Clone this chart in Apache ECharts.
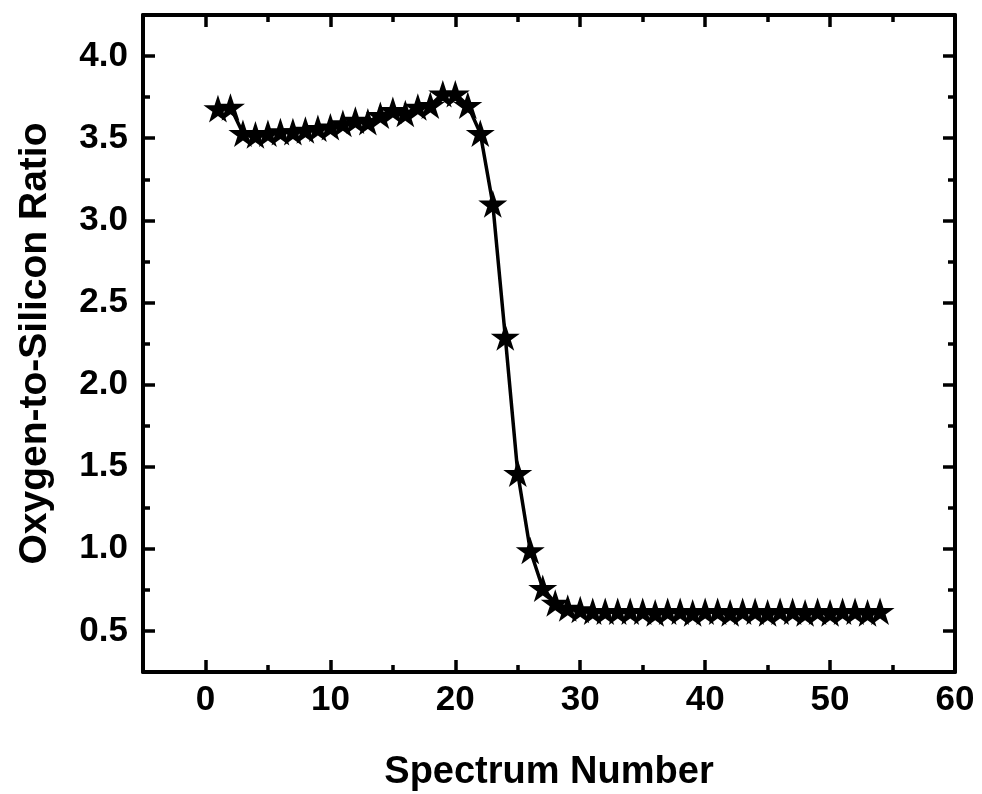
<!DOCTYPE html>
<html>
<head>
<meta charset="utf-8">
<script src="https://cdn.jsdelivr.net/npm/echarts@6/dist/echarts.min.js"></script>
<style>
html,body{margin:0;padding:0;background:#fff;}
#chart{width:982px;height:794px;}
</style>
</head>
<body>
<div id="chart"></div>
<script>
// Data
const spectrumNumbers = [1,2,3,4,5,6,7,8,9,10,11,12,13,14,15,16,17,18,19,20,21,22,23,24,25,26,27,28,29,30,31,32,33,34,35,36,37,38,39,40,41,42,43,44,45,46,47,48,49,50,51,52,53,54];
const ratioValues = [3.68,3.69,3.53,3.52,3.53,3.54,3.54,3.55,3.56,3.57,3.59,3.61,3.60,3.64,3.67,3.65,3.69,3.70,3.77,3.77,3.70,3.53,3.10,2.29,1.46,0.99,0.76,0.67,0.64,0.63,0.62,0.62,0.62,0.62,0.62,0.61,0.62,0.62,0.61,0.62,0.62,0.61,0.62,0.62,0.61,0.62,0.62,0.61,0.62,0.61,0.62,0.62,0.61,0.62];
const xMajorTicks = [0,10,20,30,40,50,60];
const xMinorTicks = [5,15,25,35,45,55];
const yMajorTicks = [0.5,1.0,1.5,2.0,2.5,3.0,3.5,4.0];
const yMinorTicks = [0.75,1.25,1.75,2.25,2.75,3.25,3.75];
const xTitle = 'Spectrum Number';
const yTitle = 'Oxygen-to-Silicon Ratio';

const FONT = '"Liberation Sans", Arial, sans-serif';
const chart = echarts.init(document.getElementById('chart'), null, {renderer:'canvas'});
const starPath = 'path://M50,0 L61.2,34.5 L97.6,34.5 L68.2,55.9 L79.4,90.5 L50,69.1 L20.6,90.5 L31.8,55.9 L2.4,34.5 L38.8,34.5 Z';

function xAx(pos, ticks, len, showLabel, showLine, name){
  return {
    type:'value', position:pos, min:-5, max:60,
    gridIndex:0,
    name: name || '', nameLocation:'middle', nameGap:82,
    nameTextStyle:{fontFamily:FONT, fontWeight:'bold', fontSize:38, color:'#000'},
    axisLine:{show:showLine, onZero:false, lineStyle:{color:'#000', width:4}},
    axisTick:{show:true, inside:true, length:len, customValues:ticks, lineStyle:{color:'#000', width:3.5}},
    axisLabel:{show:showLabel, customValues:ticks, margin:11, fontFamily:FONT, fontWeight:'bold', fontSize:35, color:'#000'},
    splitLine:{show:false}
  };
}
function yAx(pos, ticks, len, showLabel, showLine, name){
  return {
    type:'value', position:pos, min:0.25, max:4.25,
    gridIndex:0,
    name: name || '', nameLocation:'middle', nameGap:88,
    nameTextStyle:{fontFamily:FONT, fontWeight:'bold', fontSize:39, color:'#000'},
    axisLine:{show:showLine, onZero:false, lineStyle:{color:'#000', width:4}},
    axisTick:{show:true, inside:true, length:len, customValues:ticks, lineStyle:{color:'#000', width:3.5}},
    axisLabel:{show:showLabel, customValues:ticks, margin:15, fontFamily:FONT, fontWeight:'bold', fontSize:35, color:'#000',
      formatter:function(v){return v.toFixed(1);}},
    splitLine:{show:false}
  };
}

chart.setOption({
  backgroundColor:'#fff',
  animation:false,
  grid:{left:143, right:27, top:15, bottom:122, containLabel:false, outerBoundsMode:'none'},
  xAxis:[
    xAx('bottom', xMajorTicks, 12, true, true, xTitle),
    xAx('bottom', xMinorTicks, 7, false, false),
    xAx('top', xMajorTicks, 12, false, true),
    xAx('top', xMinorTicks, 7, false, false)
  ],
  yAxis:[
    yAx('left', yMajorTicks, 12, true, true, yTitle),
    yAx('left', yMinorTicks, 7, false, false),
    yAx('right', yMajorTicks, 12, false, true),
    yAx('right', yMinorTicks, 7, false, false)
  ],
  series:[{
    type:'line',
    xAxisIndex:0, yAxisIndex:0,
    data: spectrumNumbers.map((x,i)=>[x, ratioValues[i]]),
    symbol: starPath,
    symbolSize: 29,
    symbolKeepAspect:true,
    showAllSymbol:true,
    lineStyle:{color:'#000', width:3.5},
    itemStyle:{color:'#000', borderWidth:0}
  }]
});
</script>
</body>
</html>
